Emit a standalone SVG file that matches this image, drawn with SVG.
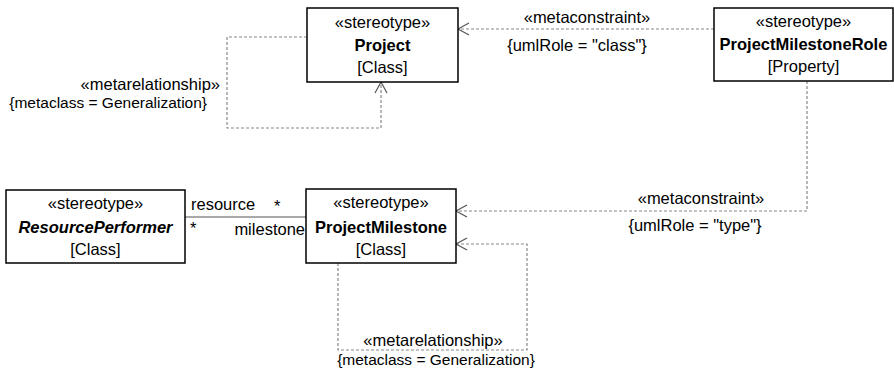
<svg xmlns="http://www.w3.org/2000/svg" width="894" height="373" viewBox="0 0 894 373">
<defs>
<style>
text{font-family:"Liberation Sans",Arial,sans-serif;font-size:16.5px;fill:#000}
.c{text-anchor:middle}
.b{font-weight:bold}
.bi{font-weight:bold;font-style:italic}
.t{font-size:15.5px}
.box{fill:#fff;stroke:#000;stroke-width:1.5}
.dash{fill:none;stroke:#888;stroke-width:1.2;stroke-dasharray:3,2}
.solid{fill:none;stroke:#555;stroke-width:1.2}
.arr{fill:none;stroke:#555;stroke-width:1.2}
</style>
</defs>
<rect width="894" height="373" fill="#fff"/>
<g id="connectors">
<path class="dash" d="M307,37 H227 V128 H381 V82"/>
<path class="arr" d="M375,93 L381,82 L387,93"/>
<path class="dash" d="M714,29 H458"/>
<path class="arr" d="M469,23 L458,29 L469,35"/>
<path class="dash" d="M807,81 V211 H456"/>
<path class="arr" d="M467,205 L456,211 L467,217"/>
<path class="dash" d="M338,263 V350 H527 V244 H456"/>
<path class="arr" d="M467,238 L456,244 L467,250"/>
<path class="solid" d="M185,217 H306"/>
<text x="220" y="90" text-anchor="end">«metarelationship»</text>
<text class="t" x="207" y="108" text-anchor="end">{metaclass = Generalization}</text>
<text class="c" x="587" y="23">«metaconstraint»</text>
<text class="c" x="577" y="51">{umlRole = "class"}</text>
<text class="c" x="701" y="204">«metaconstraint»</text>
<text class="c" x="695" y="231">{umlRole = "type"}</text>
<text class="c" x="433" y="346">«metarelationship»</text>
<text class="c t" x="436" y="365">{metaclass = Generalization}</text>
<text x="191" y="210">resource</text>
<text x="274" y="212">*</text>
<text x="190" y="234">*</text>
<text x="305" y="235" text-anchor="end">milestone</text>
</g>
<g id="project">
<rect class="box" x="307" y="8" width="151" height="74"/>
<text class="c" x="382.5" y="28">«stereotype»</text>
<text class="c b" x="382.5" y="51">Project</text>
<text class="c" x="382.5" y="73">[Class]</text>
</g>
<g id="projectMilestoneRole">
<rect class="box" x="714" y="8" width="179" height="73"/>
<text class="c" x="803.5" y="27">«stereotype»</text>
<text class="c b" x="803.5" y="50">ProjectMilestoneRole</text>
<text class="c" x="803.5" y="72">[Property]</text>
</g>
<g id="projectMilestone">
<rect class="box" x="306" y="189" width="150" height="74"/>
<text class="c" x="381" y="208">«stereotype»</text>
<text class="c b" x="381" y="233">ProjectMilestone</text>
<text class="c" x="381" y="255">[Class]</text>
</g>
<g id="resourcePerformer">
<rect class="box" x="6" y="190" width="179" height="73"/>
<text class="c" x="95.5" y="209">«stereotype»</text>
<text class="c bi" x="95.5" y="233">ResourcePerformer</text>
<text class="c" x="95.5" y="255">[Class]</text>
</g>
</svg>
